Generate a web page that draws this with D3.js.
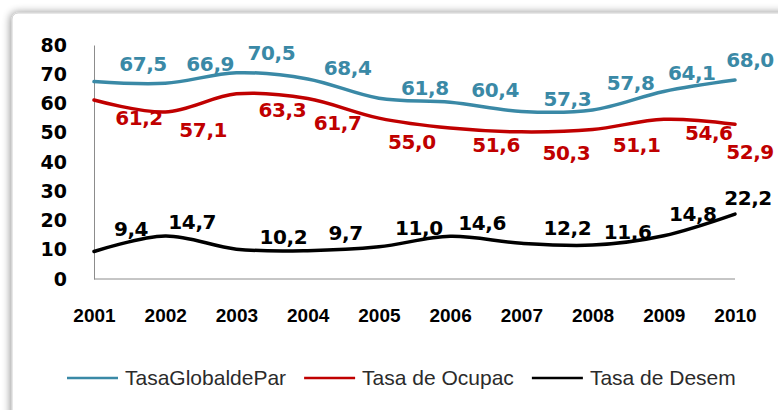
<!DOCTYPE html>
<html>
<head>
<meta charset="utf-8">
<script src="https://cdn.jsdelivr.net/npm/d3@7"></script>
<style>
  body { margin: 0; background: #fff; }
  svg { display: block; }
</style>
</head>
<body>
<div id="chart"></div>
<script>
  const years = ["2001", "2002", "2003", "2004", "2005", "2006", "2007", "2008", "2009", "2010"];
  const globalPart = [67.5, 66.9, 70.5, 68.4, 61.8, 60.4, 57.3, 57.8, 64.1, 68.0];
  const ocupacion = [61.2, 57.1, 63.3, 61.7, 55.0, 51.6, 50.3, 51.1, 54.6, 52.9];
  const desempleo = [9.4, 14.7, 10.2, 9.7, 11.0, 14.6, 12.2, 11.6, 14.8, 22.2];
  const yTicks = [0, 10, 20, 30, 40, 50, 60, 70, 80];
  const seriesNames = ["TasaGlobaldePar", "Tasa de Ocupac", "Tasa de Desem"];

  // label nudges (dx, dy from the point) - the labels were moved by hand in the original
  const nudgeBlue = [[49, -18], [45, -20], [35, -20], [40, -11], [46, -10], [45, -13], [46, -13], [38, -27], [28, -19], [15, -20]];
  const nudgeRed = [[45, 18], [38, 18], [46, 16], [30, 24], [33, 24], [46, 17], [45, 21], [44, 15], [45, 14], [15, 28]];
  const nudgeBlack = [[37, -23], [27, -14], [47, -12], [38, -18], [40, -19], [32, -13], [46, -16], [35, -13], [29, -22], [13, -16]];

  const W = 778, H = 410;
  const colors = ["#3a89a6", "#c00000", "#000000"];

  const svg = d3.select("#chart").append("svg")
    .attr("width", W)
    .attr("height", H);

  // frame with soft shadow
  const defs = svg.append("defs");
  const f = defs.append("filter").attr("id", "shadow")
    .attr("x", "-10%").attr("y", "-10%").attr("width", "120%").attr("height", "120%");
  f.append("feGaussianBlur").attr("in", "SourceAlpha").attr("stdDeviation", 4).attr("result", "b");
  f.append("feOffset").attr("in", "b").attr("dx", -1).attr("dy", 0).attr("result", "o");
  f.append("feComponentTransfer").attr("in", "o").attr("result", "s")
    .append("feFuncA").attr("type", "linear").attr("slope", 0.45);
  const fm = f.append("feMerge");
  fm.append("feMergeNode").attr("in", "s");
  fm.append("feMergeNode").attr("in", "SourceGraphic");

  svg.append("rect")
    .attr("x", 12).attr("y", 13)
    .attr("width", 820).attr("height", 440)
    .attr("rx", 6)
    .attr("fill", "#fff")
    .attr("stroke", "#d0d0d0")
    .attr("filter", "url(#shadow)");

  // scales
  const x = d3.scalePoint().domain(years).range([94, 735]);
  const y = d3.scaleLinear().domain([0, 80]).range([279, 45]);

  // axes
  const yAxis = svg.append("g")
    .attr("transform", "translate(94,0)")
    .call(d3.axisLeft(y).tickValues(yTicks).tickSize(0).tickPadding(27));
  yAxis.select(".domain").attr("stroke", "#8c8c8c");
  yAxis.selectAll("text")
    .style("font-family", "DejaVu Sans")
    .style("font-weight", "bold")
    .style("font-size", "19px")
    .attr("fill", "#000");

  const xAxis = svg.append("g")
    .attr("transform", "translate(0,279)")
    .call(d3.axisBottom(x).tickSize(0).tickPadding(30));
  xAxis.select(".domain").attr("stroke", "#8c8c8c").attr("d", `M${x.range()[0]},0H${x.range()[1]}`);
  xAxis.selectAll("text")
    .style("font-family", "Liberation Sans, Arial")
    .style("font-weight", "bold")
    .style("font-size", "19px")
    .attr("fill", "#000");

  // lines
  const all = [globalPart, ocupacion, desempleo];
  const nudges = [nudgeBlue, nudgeRed, nudgeBlack];

  const line = d3.line()
    .x((d, i) => x(years[i]))
    .y((d) => y(d))
    .curve(d3.curveCardinal.tension(0));

  all.forEach((vals, s) => {
    svg.append("path")
      .datum(vals)
      .attr("fill", "none")
      .attr("stroke", colors[s])
      .attr("stroke-width", 3.5)
      .attr("stroke-linecap", "round")
      .attr("d", line);
  });

  // data labels
  all.forEach((vals, s) => {
    svg.append("g")
      .selectAll("text")
      .data(vals)
      .enter()
      .append("text")
      .attr("x", (d, i) => x(years[i]) + nudges[s][i][0])
      .attr("y", (d, i) => y(d) + nudges[s][i][1])
      .attr("dy", "0.36em")
      .attr("text-anchor", "middle")
      .style("font-family", "DejaVu Sans")
      .style("font-weight", "bold")
      .style("font-size", "20px")
      .style("letter-spacing", "-0.4px")
      .attr("fill", colors[s])
      .text((d) => d.toFixed(1).replace(".", ","));
  });

  // legend
  const legend = svg.append("g").attr("transform", "translate(67,378)");
  let lx = 0;
  seriesNames.forEach((name, s) => {
    legend.append("line")
      .attr("x1", lx).attr("x2", lx + 51)
      .attr("y1", 0).attr("y2", 0)
      .attr("stroke", colors[s])
      .attr("stroke-width", 2.5);
    const t = legend.append("text")
      .attr("x", lx + 58)
      .attr("y", 7)
      .style("font-family", "Liberation Sans, Arial")
      .style("font-size", "21px")
      .attr("fill", "#2b2b2b")
      .text(name);
    lx += 58 + t.node().getComputedTextLength() + 18;
  });
</script>
</body>
</html>
